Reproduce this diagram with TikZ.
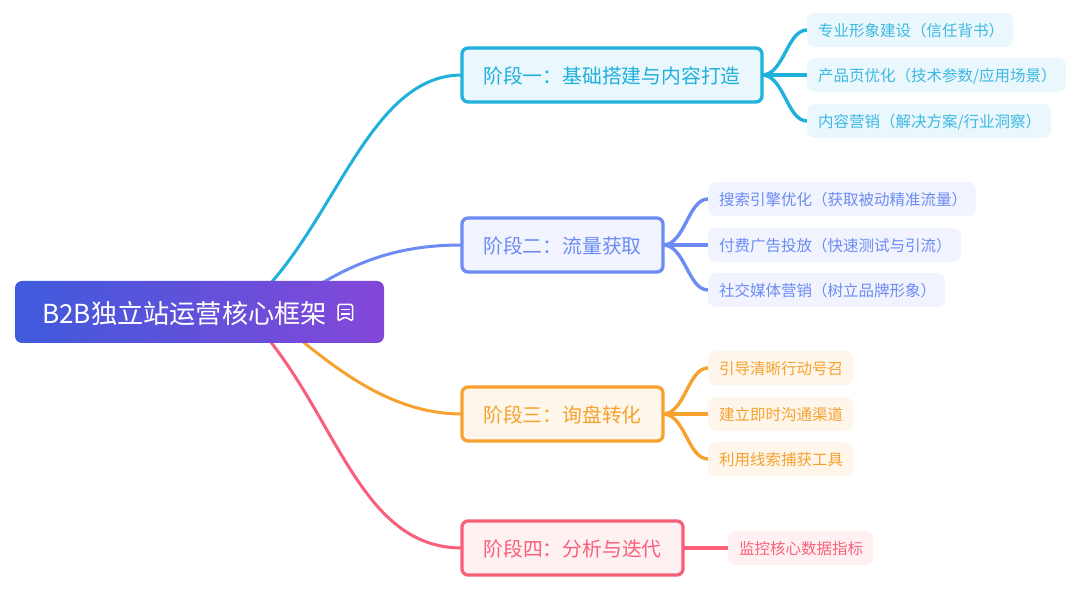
\documentclass[tikz,border=0pt]{standalone}
\usepackage{fontspec}
\setmainfont{Noto Sans CJK SC}
\usetikzlibrary{backgrounds,calc}
\definecolor{cA}{HTML}{1FB0DC}\definecolor{fA}{HTML}{EAF7FC}\definecolor{tA}{HTML}{3DB9E2}
\definecolor{cB}{HTML}{6C8BF5}\definecolor{fB}{HTML}{F1F4FE}\definecolor{tB}{HTML}{6C8BF5}
\definecolor{cC}{HTML}{F7A12E}\definecolor{fC}{HTML}{FEF6EA}\definecolor{tC}{HTML}{F7A12E}
\definecolor{cD}{HTML}{F95F78}\definecolor{fD}{HTML}{FFF0F2}\definecolor{tD}{HTML}{F9637C}
\definecolor{gL}{HTML}{3F5BDC}\definecolor{gR}{HTML}{8447D8}
\tikzset{
  stagebox/.style={draw=#1,line width=3.3pt,rounded corners=6pt,inner sep=0pt,outer sep=0pt,minimum height=54pt,anchor=west,text=#1,text height=20pt,text depth=3.2pt,font=\fontsize{19.8}{24}\selectfont},
  leafbox/.style={rounded corners=8pt,inner ysep=0pt,inner xsep=11pt,outer sep=0pt,minimum height=34pt,anchor=west,align=left,text height=16pt,text depth=3pt,font=\fontsize{15.5}{20}\selectfont},
  link/.style={line width=3pt,color=#1,line cap=round},
  leaflink/.style={line width=3.4pt,color=#1,line cap=butt},
}
\newcommand{\leafnode}[6]{\node[leafbox,fill=#1,text=#2,text width=\dimexpr#5pt-22pt\relax] (#3) at #4 {#6};}
\begin{document}
\begin{tikzpicture}[x=1pt,y=-1pt]
\useasboundingbox (0,0) rectangle (1080,593);
\node[rounded corners=7pt,left color=gL,right color=gR,minimum width=369pt,minimum height=62pt,inner sep=0pt,outer sep=0pt,anchor=west] (root) at (15,312) {};
\node[text=white,anchor=west,inner sep=0pt,font=\fontsize{26.2}{30}\selectfont,text height=24pt,text depth=2pt] (roottext) at (42,313) {B2B独立站运营核心框架};
\node[stagebox=cA,fill=fA,minimum width=300pt] (s1) at (462,75) {阶段一：基础搭建与内容打造};
\node[stagebox=cB,fill=fB,minimum width=201pt] (s2) at (462,245) {阶段二：流量获取};
\node[stagebox=cC,fill=fC,minimum width=201pt] (s3) at (462,414) {阶段三：询盘转化};
\node[stagebox=cD,fill=fD,minimum width=221pt] (s4) at (462,548) {阶段四：分析与迭代};
\leafnode{fA}{tA}{a1}{(807,30)}{206}{专业形象建设（信任背书）}
\leafnode{fA}{tA}{a2}{(807,75)}{259}{产品页优化（技术参数/应用场景）}
\leafnode{fA}{tA}{a3}{(807,121)}{244}{内容营销（解决方案/行业洞察）}
\leafnode{fB}{tB}{b1}{(708,199)}{268}{搜索引擎优化（获取被动精准流量）}
\leafnode{fB}{tB}{b2}{(708,245)}{253}{付费广告投放（快速测试与引流）}
\leafnode{fB}{tB}{b3}{(708,290)}{237}{社交媒体营销（树立品牌形象）}
\leafnode{fC}{tC}{c1}{(708,368)}{145}{引导清晰行动号召}
\leafnode{fC}{tC}{c2}{(708,414)}{145}{建立即时沟通渠道}
\leafnode{fC}{tC}{c3}{(708,459)}{145}{利用线索捕获工具}
\leafnode{fD}{tD}{d1}{(728,548)}{145}{监控核心数据指标}
\coordinate (r1) at (270,284);
\coordinate (r2) at (322,283);
\coordinate (r3) at (302,341);
\coordinate (r4) at (270,341);
% note icon
\draw[white,line width=1.5pt,line join=round,rounded corners=1.5pt] (338,304.5) -- (352.5,304.5) -- (352.5,321) -- (345.2,317) -- (338,321) -- cycle;
\draw[white,line width=1.5pt] (341,309.5) -- (349.5,309.5) (341,314) -- (349.5,314);
\begin{scope}[on background layer]
\draw[link=cA] (r1) .. controls (340,205) and (375,75) .. (s1.west);
\draw[link=cB] (r2) .. controls (365,258) and (405,245) .. (s2.west);
\draw[link=cC] (r3) .. controls (350,380) and (400,414) .. (s3.west);
\draw[link=cD] (r4) .. controls (340,430) and (365,548) .. (s4.west);
\foreach \l in {a1,a2,a3}{\draw[leaflink=cA] (s1.east) .. controls ($(s1.east)+(22,0)$) and ($(\l.west)+(-20,0)$) .. (\l.west);}
\foreach \l in {b1,b2,b3}{\draw[leaflink=cB] (s2.east) .. controls ($(s2.east)+(22,0)$) and ($(\l.west)+(-20,0)$) .. (\l.west);}
\foreach \l in {c1,c2,c3}{\draw[leaflink=cC] (s3.east) .. controls ($(s3.east)+(22,0)$) and ($(\l.west)+(-20,0)$) .. (\l.west);}
\draw[leaflink=cD] (s4.east) -- (d1.west);
\end{scope}
\end{tikzpicture}
\end{document}
